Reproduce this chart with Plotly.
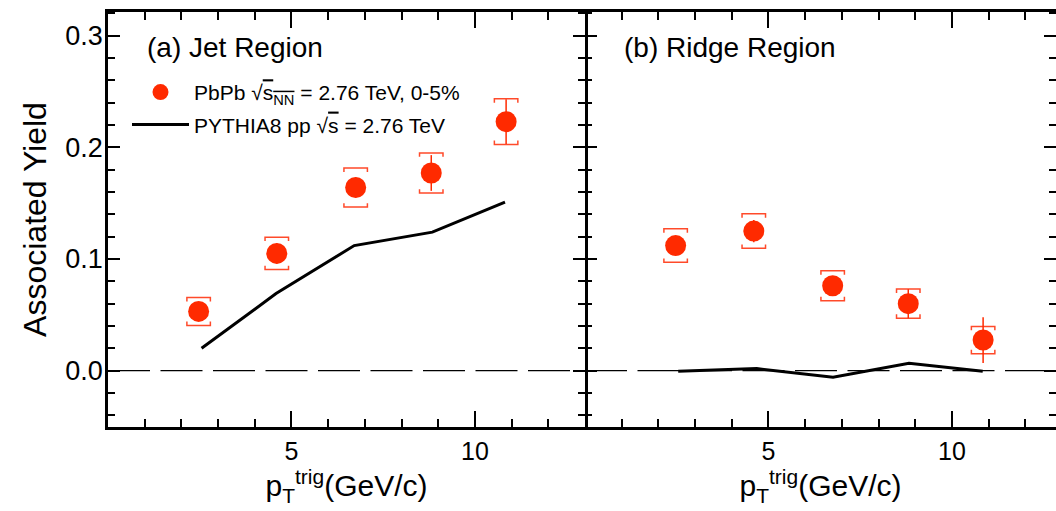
import plotly.graph_objects as go

# ---------------- data ----------------
pt_x = [2.47, 4.60, 6.75, 8.81, 10.85]

jet_y = [0.053, 0.105, 0.164, 0.177, 0.223]
jet_stat = [0.006, 0.009, 0.009, 0.016, 0.020]
jet_sys = [0.0125, 0.0145, 0.0175, 0.018, 0.0205]

ridge_y = [0.112, 0.125, 0.076, 0.060, 0.0274]
ridge_stat = [0.008, 0.010, 0.008, 0.013, 0.0205]
ridge_sys = [0.015, 0.0155, 0.0134, 0.013, 0.0122]

pythia_x_jet = [2.55, 4.58, 6.71, 8.84, 10.82]
pythia_jet = [0.020, 0.069, 0.112, 0.124, 0.151]
pythia_x_ridge = [2.54, 4.68, 6.76, 8.83, 10.84]
pythia_ridge = [-0.0006, 0.0018, -0.006, 0.0065, -0.0006]

x_ticks = [5, 10]
y_ticks = [0.0, 0.1, 0.2, 0.3]
panel_labels = ["(a) Jet Region", "(b) Ridge Region"]

RED = "#ff2a00"
BRK = "#ff4a2a"
FONT = "Liberation Sans, Arial, sans-serif"

W, H = 1056, 511
L, T, B = 108, 12, 83.5
split_px = 585
dom_split = (split_px - L) / (W - L)
px_per_unit = (split_px - L) / 13.0
right_max = (W - split_px) / px_per_unit


def brackets(xs, ys, es, half_w=0.32, cap=0.0035):
    bx, by = [], []
    for x, y, e in zip(xs, ys, es):
        hi, lo = y + e, y - e
        bx += [x - half_w, x - half_w, x + half_w, x + half_w, None]
        by += [hi - cap, hi, hi, hi - cap, None]
        bx += [x - half_w, x - half_w, x + half_w, x + half_w, None]
        by += [lo + cap, lo, lo, lo + cap, None]
    return bx, by


fig = go.Figure()

for i, (ys, st, sy, px_, py_) in enumerate([
    (jet_y, jet_stat, jet_sys, pythia_x_jet, pythia_jet),
    (ridge_y, ridge_stat, ridge_sys, pythia_x_ridge, pythia_ridge),
]):
    xa = "x" if i == 0 else "x2"
    ya = "y" if i == 0 else "y2"
    xmax = 13 if i == 0 else right_max
    fig.add_trace(go.Scatter(x=[0, xmax], y=[0, 0], mode="lines", xaxis=xa, yaxis=ya,
                             line=dict(color="black", width=1.3, dash="42px,10.5px"),
                             showlegend=False, hoverinfo="skip"))
    fig.add_trace(go.Scatter(x=px_, y=py_, mode="lines", xaxis=xa, yaxis=ya,
                             line=dict(color="black", width=3),
                             name="PYTHIA8 pp √<span style='text-decoration:overline'>s</span> = 2.76 TeV",
                             legendgroup="b", legendrank=2, showlegend=(i == 0)))
    bx, by = brackets(pt_x, ys, sy)
    fig.add_trace(go.Scatter(x=bx, y=by, mode="lines", xaxis=xa, yaxis=ya,
                             line=dict(color=BRK, width=1.5), showlegend=False,
                             hoverinfo="skip"))
    fig.add_trace(go.Scatter(x=pt_x, y=ys, mode="markers", xaxis=xa, yaxis=ya,
                             marker=dict(color=RED, size=21, symbol="circle"),
                             error_y=dict(type="data", array=st, color=RED,
                                          thickness=1.5, width=0),
                             name="PbPb √<span style='text-decoration:overline'>s<sub>NN</sub></span> = 2.76 TeV, 0-5%",
                             legendgroup="a", legendrank=1, showlegend=(i == 0)))

axis_common = dict(
    linecolor="black", linewidth=2.5, mirror="ticks", automargin=False,
    ticks="inside", tickcolor="black", tickwidth=2, showgrid=False, zeroline=False,
)
minor_x = dict(dtick=1, ticklen=8, ticks="inside", tickcolor="black", tickwidth=1.5)
minor_y = dict(dtick=0.02, ticklen=7, ticks="inside", tickcolor="black", tickwidth=1.5)
xtitle = "p<sub>T</sub><sup>trig</sup>(GeV/c)"

fig.update_layout(
    width=W, height=H,
    margin=dict(l=L, r=0, t=T, b=B),
    paper_bgcolor="white", plot_bgcolor="white",
    font=dict(family=FONT, color="black"),
    xaxis=dict(domain=[0, dom_split], range=[0, 13], tickvals=x_ticks, ticklen=16,
               minor=minor_x, tickfont=dict(size=25), showline=True,
               title=dict(text=xtitle, font=dict(size=30), standoff=6),
               **axis_common),
    xaxis2=dict(domain=[dom_split, 1], range=[0, right_max], tickvals=x_ticks, ticklen=16,
                minor=minor_x, tickfont=dict(size=25), anchor="y2", showline=True,
                title=dict(text=xtitle, font=dict(size=30), standoff=6),
                **axis_common),
    yaxis=dict(domain=[0, 1], range=[-0.0505, 0.3212], tickvals=y_ticks, tickformat=".1f",
               ticklen=12, minor=minor_y, tickfont=dict(size=27), showline=True,
               ticklabelstandoff=-3,
               title=dict(text="Associated Yield", font=dict(size=32), standoff=10),
               **axis_common),
    yaxis2=dict(domain=[0, 1], range=[-0.0505, 0.3212], tickvals=y_ticks, showticklabels=False,
                anchor="x2", matches="y", showline=False,
                ticklen=12, minor=minor_y,
                **axis_common),
    legend=dict(x=(127 - L) / (W - L), y=1 - (72 - T) / (H - T - B), xanchor="left", yanchor="top",
                bgcolor="rgba(0,0,0,0)", font=dict(size=21, family=FONT),
                itemwidth=57, tracegroupgap=2, traceorder="grouped"),
    showlegend=True,
)

label_px = [145, 622]
for txt, px in zip(panel_labels, label_px):
    fig.add_annotation(text=txt, xref="paper", yref="paper",
                       x=(px - L) / (W - L), y=1 - (48 - T) / (H - T - B),
                       xanchor="left", yanchor="middle", showarrow=False,
                       font=dict(size=28, family=FONT, color="black"))

fig.write_html("out.html",
               config={"displayModeBar": False},
               post_script="document.body.style.margin='0';document.body.style.overflow='hidden';")
